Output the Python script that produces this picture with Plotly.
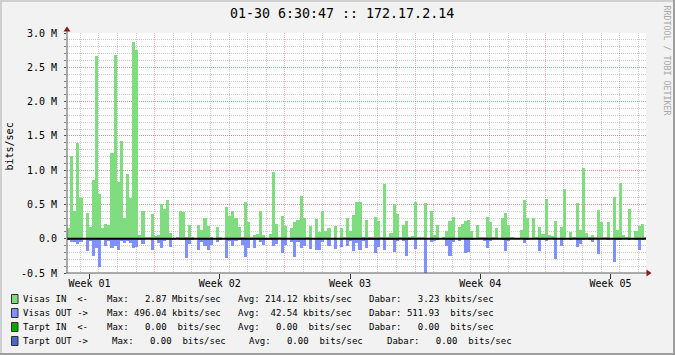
import plotly.graph_objects as go

# ---------------- data ----------------
TITLE = "01-30 6:30:47 :: 172.17.2.14"
Y_TITLE = "bits/sec"
WATERMARK = "RRDTOOL / TOBI OETIKER"

BIN_DAYS = 4.0 / 24.0          # one bar = 4 hours
FIRST_WEEK_START = 4.711       # days from graph start to first week boundary
SPAN_DAYS = 31.12              # visible time span (days)

# Visas IN (Mbit/s), one value per 4h bin
visas_in = [
    0.15, 1.2, 0.4, 1.4, 0.6, 0.01, 0.38, 0.17, 0.85, 2.67,
    0.65, 0.15, 0.22, 0.2, 1.25, 2.68, 0.82, 1.42, 0.3, 0.95,
    0.6, 2.87, 2.75, 0.05, 0.4, 0.03, 0.03, 0.36, 0.04, 0.05,
    0.5, 0.43, 0.57, 0.08, 0.005, 0.02, 0.41, 0.39, 0.03, 0.2,
    0.02, 0.0, 0.2, 0.12, 0.3, 0.19, 0.03, 0.0, 0.17, 0.03,
    0.01, 0.46, 0.33, 0.4, 0.3, 0.17, 0.03, 0.53, 0.25, 0.03,
    0.06, 0.07, 0.4, 0.05, 0.01, 0.07, 0.97, 0.22, 0.02, 0.33,
    0.19, 0.01, 0.16, 0.24, 0.28, 0.62, 0.3, 0.02, 0.19, 0.01,
    0.29, 0.1, 0.4, 0.11, 0.15, 0.01, 0.19, 0.01, 0.15, 0.02,
    0.3, 0.11, 0.35, 0.53, 0.53, 0.02, 0.28, 0.03, 0.02, 0.32,
    0.26, 0.02, 0.8, 0.02, 0.09, 0.5, 0.36, 0.02, 0.2, 0.26,
    0.02, 0.04, 0.53, 0.02, 0.03, 0.52, 0.01, 0.4, 0.05, 0.2,
    0.01, 0.03, 0.11, 0.26, 0.32, 0.01, 0.17, 0.22, 0.26, 0.27,
    0.11, 0.01, 0.2, 0.03, 0.02, 0.32, 0.24, 0.03, 0.16, 0.01,
    0.3, 0.38, 0.2, 0.02, 0.01, 0.0, 0.13, 0.56, 0.3, 0.01,
    0.3, 0.02, 0.17, 0.07, 0.58, 0.05, 0.04, 0.26, 0.01, 0.17,
    0.72, 0.01, 0.1, 0.02, 0.52, 0.13, 1.03, 0.09, 0.02, 0.05,
    0.02, 0.42, 0.24, 0.02, 0.24, 0.01, 0.61, 0.13, 0.81, 0.05,
    0.02, 0.43, 0.01, 0.11, 0.19, 0.22, 0.03,
]

# Visas OUT (Mbit/s), drawn below zero
visas_out = [
    0.02, 0.05, 0.05, 0.07, 0.05, 0.0, 0.18, 0.03, 0.25, 0.13,
    0.41, 0.02, 0.11, 0.03, 0.14, 0.1, 0.17, 0.03, 0.06, 0.03,
    0.06, 0.14, 0.12, 0.02, 0.07, 0.0, 0.0, 0.16, 0.02, 0.06,
    0.14, 0.04, 0.02, 0.12, 0.02, 0.0, 0.02, 0.01, 0.28, 0.07,
    0.01, 0.0, 0.16, 0.05, 0.11, 0.16, 0.09, 0.0, 0.05, 0.01,
    0.0, 0.28, 0.04, 0.11, 0.04, 0.02, 0.09, 0.26, 0.14, 0.01,
    0.13, 0.02, 0.05, 0.09, 0.02, 0.02, 0.11, 0.08, 0.0, 0.21,
    0.09, 0.0, 0.05, 0.26, 0.05, 0.13, 0.1, 0.0, 0.15, 0.0,
    0.17, 0.16, 0.05, 0.0, 0.11, 0.0, 0.15, 0.0, 0.12, 0.0,
    0.1, 0.03, 0.18, 0.06, 0.16, 0.04, 0.14, 0.01, 0.02, 0.21,
    0.12, 0.0, 0.17, 0.01, 0.02, 0.2, 0.03, 0.0, 0.04, 0.25,
    0.02, 0.0, 0.15, 0.0, 0.0, 0.5, 0.0, 0.05, 0.03, 0.02,
    0.0, 0.0, 0.1, 0.25, 0.05, 0.0, 0.03, 0.0, 0.21, 0.2,
    0.02, 0.0, 0.0, 0.0, 0.03, 0.14, 0.03, 0.0, 0.0, 0.0,
    0.02, 0.18, 0.03, 0.0, 0.0, 0.0, 0.0, 0.06, 0.01, 0.0,
    0.0, 0.0, 0.18, 0.01, 0.03, 0.0, 0.0, 0.3, 0.0, 0.1,
    0.02, 0.0, 0.02, 0.0, 0.12, 0.08, 0.02, 0.0, 0.02, 0.05,
    0.0, 0.23, 0.0, 0.0, 0.01, 0.0, 0.34, 0.02, 0.02, 0.0,
    0.0, 0.02, 0.0, 0.02, 0.16, 0.02, 0.0,
]

week_labels = ["Week 01", "Week 02", "Week 03", "Week 04", "Week 05"]
y_ticks = [-0.5, 0.0, 0.5, 1.0, 1.5, 2.0, 2.5, 3.0]
y_tick_text = ["-0.5 M", "0.0", "0.5 M", "1.0 M", "1.5 M", "2.0 M", "2.5 M", "3.0 M"]

legend_names = ["Visas IN  <-", "Visas OUT ->", "Tarpt IN  <-", "Tarpt OUT ->"]
legend_max = ["Max:   2.87 Mbits/sec", "Max: 496.04 kbits/sec",
              "Max:   0.00  bits/sec", "Max:   0.00  bits/sec"]
legend_avg = ["Avg: 214.12 kbits/sec", "Avg:  42.54 kbits/sec",
              "Avg:   0.00  bits/sec", "Avg:   0.00  bits/sec"]
legend_cur = ["Dabar:   3.23 kbits/sec", "Dabar: 511.93  bits/sec",
              "Dabar:   0.00  bits/sec", "Dabar:   0.00  bits/sec"]

# ---------------- style ----------------
W, H = 675, 355
L, R, T, B = 67, 29, 33, 82
PW, PH = W - L - R, H - T - B

BACK = "#F2F2F2"
GRID = "rgba(143,143,143,0.45)"
MGRID = "rgba(222,79,79,0.45)"
ARROW = "#801F1F"
AXIS = "#5A5A5A"
C_IN = "#7FDC7F"
C_OUT = "#8091FF"
C_TIN = "#00A800"
C_TOUT = "#4A68C8"
LEG_COLORS = [C_IN, C_OUT, C_TIN, C_TOUT]
MONO = "DejaVu Sans Mono"


def px_x(px):
    return (px - L) / PW


def px_y(py):
    return (H - B - py) / PH


n = len(visas_in)
t = [(i + 0.5) * BIN_DAYS for i in range(n)]
week_mid = [FIRST_WEEK_START - 3.5 + 7 * k for k in range(len(week_labels))]

fig = go.Figure()
fig.add_trace(go.Bar(x=t, y=visas_in, width=BIN_DAYS, name="Visas IN",
                     marker=dict(color=C_IN, line=dict(width=0)), showlegend=False))
fig.add_trace(go.Bar(x=t, y=[-v for v in visas_out], width=BIN_DAYS, name="Visas OUT",
                     marker=dict(color=C_OUT, line=dict(width=0)), showlegend=False))
fig.add_trace(go.Scatter(x=week_mid, y=[0] * len(week_mid), xaxis="x2", mode="markers",
                         marker=dict(opacity=0), hoverinfo="skip", showlegend=False))

shapes = []
# zero rule
shapes.append(dict(type="line", xref="paper", yref="y", x0=0, x1=1, y0=0, y1=0,
                   line=dict(color="black", width=2), layer="above"))
# axes
shapes.append(dict(type="line", xref="paper", yref="paper", x0=px_x(67), x1=px_x(67),
                   y0=px_y(H - B), y1=px_y(30), line=dict(color=AXIS, width=1), layer="above"))
shapes.append(dict(type="line", xref="paper", yref="paper", x0=px_x(66), x1=px_x(648),
                   y0=px_y(H - B), y1=px_y(H - B), line=dict(color=AXIS, width=1), layer="above"))
# arrows
ya = "M {} {} L {} {} L {} {} Z".format(px_x(63.5), px_y(31.5), px_x(70.5), px_y(31.5),
                                        px_x(67), px_y(26.5))
xa = "M {} {} L {} {} L {} {} Z".format(px_x(646.5), px_y(269.5), px_x(646.5), px_y(276.5),
                                        px_x(651.5), px_y(273))
for p in (ya, xa):
    shapes.append(dict(type="path", xref="paper", yref="paper", path=p,
                       fillcolor=ARROW, line=dict(color=ARROW, width=0), layer="above"))
# image border (3D shade)
shapes.append(dict(type="line", xref="paper", yref="paper", x0=px_x(0), x1=px_x(W),
                   y0=px_y(1), y1=px_y(1), line=dict(color="#CFCFCF", width=2)))
shapes.append(dict(type="line", xref="paper", yref="paper", x0=px_x(1), x1=px_x(1),
                   y0=px_y(0), y1=px_y(H), line=dict(color="#CFCFCF", width=2)))
shapes.append(dict(type="line", xref="paper", yref="paper", x0=px_x(0), x1=px_x(W),
                   y0=px_y(H - 1), y1=px_y(H - 1), line=dict(color="#9E9E9E", width=2)))
shapes.append(dict(type="line", xref="paper", yref="paper", x0=px_x(W - 1), x1=px_x(W - 1),
                   y0=px_y(0), y1=px_y(H), line=dict(color="#9E9E9E", width=2)))

annotations = []
annotations.append(dict(text=TITLE, x=px_x(341.5), y=px_y(13.5), xref="paper", yref="paper",
                        xanchor="center", yanchor="middle", showarrow=False,
                        font=dict(family=MONO, size=13.3, color="black")))
annotations.append(dict(text=Y_TITLE, x=px_x(8.5), y=px_y(147), xref="paper", yref="paper",
                        xanchor="center", yanchor="middle", showarrow=False, textangle=-90,
                        font=dict(family=MONO, size=10, color="black")))
annotations.append(dict(text=WATERMARK, x=px_x(666.5), y=px_y(60), xref="paper", yref="paper",
                        xanchor="center", yanchor="middle", showarrow=False, textangle=90,
                        font=dict(family=MONO, size=8.3, color="#A8A8A8")))

row_y = [299, 313, 327, 341]
col_x = [
    (23.3, 106.7, 238.3, 369.3),
    (23.3, 106.7, 238.3, 369.3),
    (23.3, 106.7, 238.3, 369.3),
    (23.3, 112.3, 249.3, 386.7),
]
for k in range(4):
    y = row_y[k]
    shapes.append(dict(type="rect", xref="paper", yref="paper",
                       x0=px_x(11.5), x1=px_x(18), y0=px_y(y + 4.5), y1=px_y(y - 4.5),
                       fillcolor=LEG_COLORS[k], line=dict(color="#303030", width=1)))
    for txt, cx in zip((legend_names[k], legend_max[k], legend_avg[k], legend_cur[k]), col_x[k]):
        annotations.append(dict(text=txt.replace(" ", "&nbsp;"), x=px_x(cx), y=px_y(y),
                                xref="paper", yref="paper", xanchor="left", yanchor="middle",
                                showarrow=False, borderpad=0, borderwidth=0,
                                font=dict(family=MONO, size=9, color="black")))

fig.update_layout(
    width=W, height=H,
    margin=dict(l=L, r=R, t=T, b=B, pad=0),
    paper_bgcolor=BACK, plot_bgcolor="white",
    barmode="overlay", bargap=0,
    showlegend=False,
    shapes=shapes, annotations=annotations,
    xaxis=dict(range=[0, SPAN_DAYS], tickmode="linear", tick0=FIRST_WEEK_START, dtick=7,
               showticklabels=False, ticks="", showgrid=True, gridcolor=MGRID, gridwidth=1,
               griddash="1px,1px", zeroline=False, showline=False, fixedrange=True,
               minor=dict(tick0=FIRST_WEEK_START, dtick=1, showgrid=True, gridcolor=GRID,
                          griddash="1px,1px", ticks="")),
    xaxis2=dict(overlaying="x", anchor="y", side="bottom", range=[0, SPAN_DAYS],
                tickmode="array", tickvals=week_mid, ticktext=week_labels,
                ticks="outside", ticklen=5, tickcolor="#303030", showgrid=False,
                zeroline=False, showline=False, fixedrange=True, ticklabelstandoff=-4,
                tickfont=dict(family=MONO, size=10, color="black")),
    yaxis=dict(range=[-0.5, 3.0], tickmode="array", tickvals=y_ticks, ticktext=y_tick_text,
               ticks="outside", ticklen=2, tickcolor="#505050", showgrid=True,
               gridcolor=MGRID, griddash="1px,1px", zeroline=False, showline=False,
               fixedrange=True, tickfont=dict(family=MONO, size=10, color="black"),
               ticklabelstandoff=5,
               minor=dict(tick0=0, dtick=0.1, showgrid=True, gridcolor=GRID,
                          griddash="1px,1px", ticks="outside", ticklen=2, tickcolor="#808080")),
)

fig.write_html("out.html")
